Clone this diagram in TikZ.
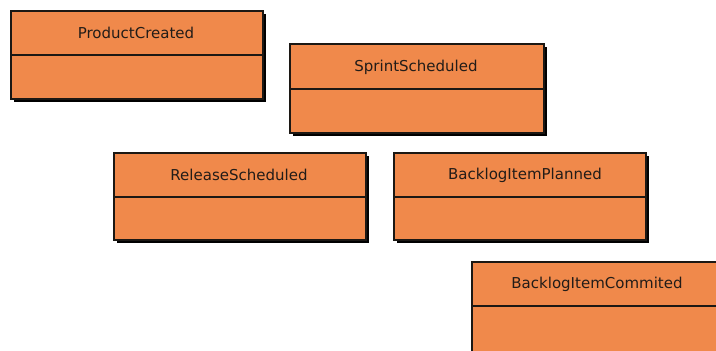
\documentclass[tikz,border=0pt]{standalone}
\usepackage{fontspec}
\setmainfont{DejaVu Sans}
\usetikzlibrary{shadows}
\definecolor{evorange}{RGB}{240,137,75}
\definecolor{boxline}{RGB}{28,24,20}
\definecolor{textdark}{RGB}{34,28,24}
\begin{document}
\begin{tikzpicture}[x=1pt,y=-1pt,
  evbox/.style={draw=boxline, line width=1.6pt, fill=evorange, inner sep=0pt,
    anchor=north west, minimum width=252pt, minimum height=88pt,
    drop shadow={shadow xshift=3pt, shadow yshift=-3pt, opacity=1, fill=black}},
  evlabel/.style={font=\fontsize{15}{18}\selectfont, text=textdark, inner sep=0pt},
  divider/.style={draw=boxline, line width=1.6pt}]
\clip (0,0) rectangle (716,351);

% ProductCreated
\node[evbox] (pc) at (10,10) {};
\draw[divider] (pc.west |- 0,55) -- (pc.east |- 0,55);
\node[evlabel] (pcl) at (136,33) {ProductCreated};

% SprintScheduled
\node[evbox, minimum width=254pt, minimum height=89pt] (ss) at (289,43) {};
\draw[divider] (ss.west |- 0,89) -- (ss.east |- 0,89);
\node[evlabel] (ssl) at (416,67) {SprintScheduled};

% ReleaseScheduled
\node[evbox, minimum height=87pt] (rs) at (113,152) {};
\draw[divider] (rs.west |- 0,197) -- (rs.east |- 0,197);
\node[evlabel] (rsl) at (239,175) {ReleaseScheduled};

% BacklogItemPlanned
\node[evbox, minimum height=87pt] (bp) at (393,152) {};
\draw[divider] (bp.west |- 0,197) -- (bp.east |- 0,197);
\node[evlabel] (bpl) at (525,175) {BacklogItemPlanned};

% BacklogItemCommited
\node[evbox, minimum width=253pt, minimum height=90pt] (bc) at (471,261) {};
\draw[divider] (bc.west |- 0,306) -- (bc.east |- 0,306);
\node[evlabel] (bcl) at (597,284) {BacklogItemCommited};
\end{tikzpicture}
\end{document}
